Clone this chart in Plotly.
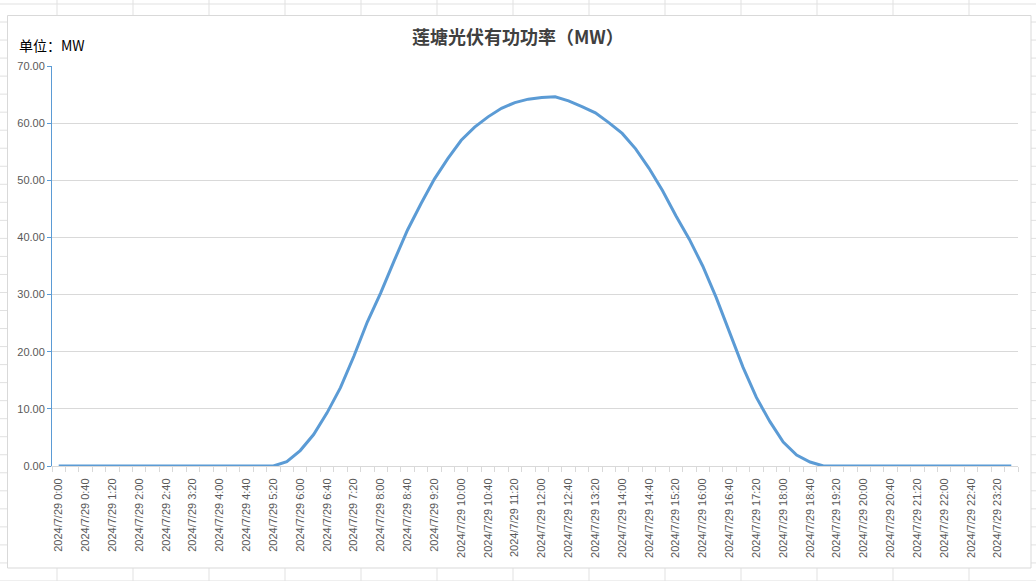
import plotly.graph_objects as go

# ---- data ----
times = [f"{h}:{m:02d}" for h in range(24) for m in (0, 20, 40)]
categories = [f"2024/7/29 {t}" for t in times]
power_mw = [
    0, 0, 0, 0, 0, 0, 0, 0, 0, 0, 0, 0, 0, 0, 0, 0, 0,
    0.75, 2.7, 5.5, 9.3, 13.7, 19.2, 25.2, 30.3, 35.9, 41.3, 45.9, 50.2,
    53.8, 57.0, 59.3, 61.1, 62.6, 63.6, 64.2, 64.5, 64.6, 63.9, 62.9, 61.8,
    60.1, 58.2, 55.5, 52.1, 48.2, 43.8, 39.7, 35.0, 29.5, 23.3, 17.3, 12.0,
    7.8, 4.2, 1.9, 0.7,
    0, 0, 0, 0, 0, 0, 0, 0, 0, 0, 0, 0, 0, 0, 0,
]
y_ticks = [0, 10, 20, 30, 40, 50, 60, 70]
title_text = "莲塘光伏有功功率（MW）"
unit_text = "单位：MW"

# ---- layout geometry (pixels) ----
W, H = 1036, 581
L, R, T, B = 52, 18, 66, 115
PW, PH = W - L - R, H - T - B


def px(x):
    return (x - L) / PW


def py(y):
    return (H - B - y) / PH


xi = list(range(len(categories)))

fig = go.Figure()
fig.add_trace(go.Scatter(
    x=xi, y=power_mw, mode="lines",
    line=dict(color="#5b9bd5", width=3),
    hoverinfo="skip", showlegend=False,
))

shapes = []
grid_col = "#e1e1e1"
# spreadsheet cell lines in background
for k in range(15):
    xv = 57 + 76 * k
    shapes.append(dict(type="line", xref="paper", yref="paper", layer="below",
                       x0=px(xv), x1=px(xv), y0=py(0), y1=py(H),
                       line=dict(color=grid_col, width=1)))
for k in range(33):
    yv = 4 + 18.03 * k
    shapes.append(dict(type="line", xref="paper", yref="paper", layer="below",
                       x0=px(0), x1=px(W), y0=py(yv), y1=py(yv),
                       line=dict(color=grid_col, width=1)))
# chart area
shapes.append(dict(type="rect", xref="paper", yref="paper", layer="below",
                   x0=px(7.5), x1=px(1031), y0=py(15.5), y1=py(568),
                   fillcolor="white", line=dict(color="#d9d9d9", width=1)))

fig.update_layout(
    width=W, height=H,
    margin=dict(l=L, r=R, t=T, b=B, pad=0),
    paper_bgcolor="white",
    plot_bgcolor="rgba(0,0,0,0)",
    shapes=shapes,
    font=dict(family="Liberation Sans, Arial, sans-serif", size=11, color="#595959"),
    annotations=[
        dict(text=f"<b>{title_text}</b>", xref="paper", yref="paper", x=px(518), y=py(36),
             xanchor="center", yanchor="middle", showarrow=False,
             font=dict(family="Noto Sans CJK SC", size=18, color="#404040"),
             ),
        dict(text=unit_text, xref="paper", yref="paper", x=px(17), y=py(45),
             xanchor="left", yanchor="middle", showarrow=False,
             font=dict(family="Noto Sans CJK SC", size=14, color="#000000")),
    ],
)

fig.update_xaxes(
    range=[-0.5, len(categories) - 0.5],
    tickmode="array", tickvals=xi[::2], ticktext=categories[::2],
    tickangle=-90, ticks="", ticklabelstandoff=7,
    tickfont=dict(size=11, color="#595959"),
    showgrid=False, zeroline=False,
    showline=True, linecolor="#d9d9d9", linewidth=1,
    minor=dict(ticks="outside", tick0=-0.5, dtick=1, ticklen=5,
               tickcolor="#d9d9d9", showgrid=False),
)
fig.update_yaxes(
    range=[0, 70], tickmode="array", tickvals=y_ticks,
    ticktext=[f"{v:.2f}" for v in y_ticks],
    ticks="outside", ticklen=4, tickcolor="#5b9bd5",
    tickfont=dict(size=11, color="#595959"),
    showgrid=True, gridcolor="#d9d9d9", gridwidth=1,
    zeroline=False, showline=True, linecolor="#5b9bd5", linewidth=1,
)

fig.write_html(
    "out.html",
    config={"displayModeBar": False, "staticPlot": True},
    post_script="document.body.style.margin='0px';document.body.style.overflow='hidden';",
)
